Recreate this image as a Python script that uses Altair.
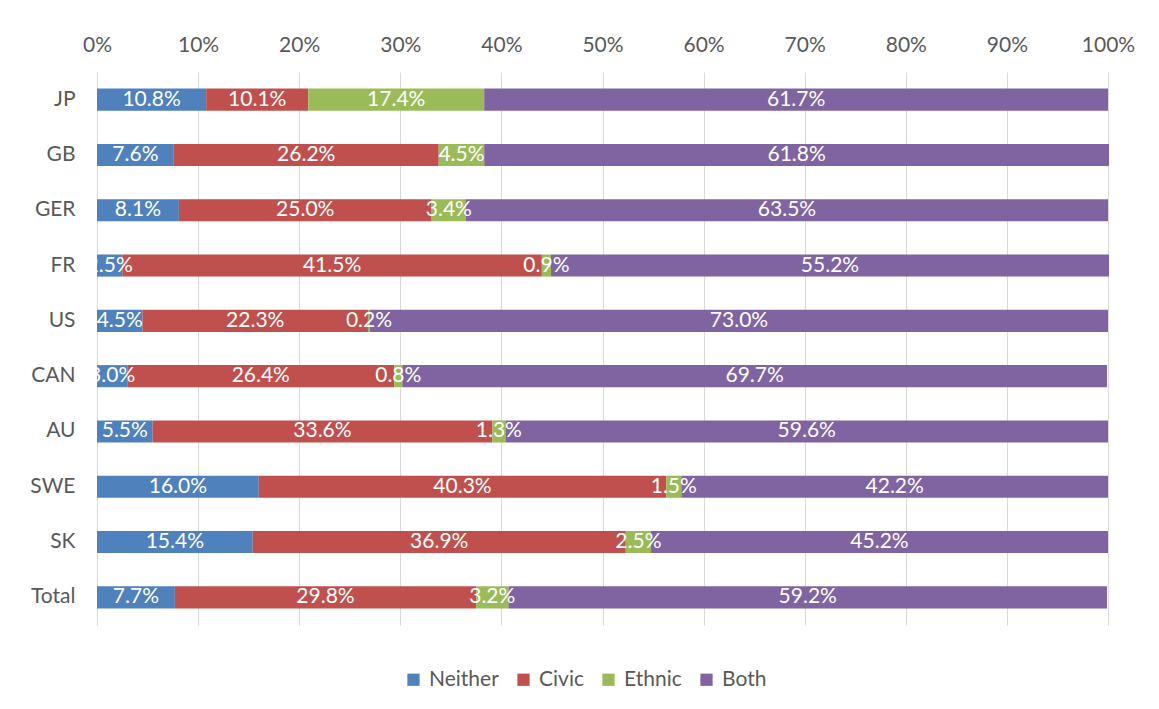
import altair as alt
import pandas as pd

countries = ["JP", "GB", "GER", "FR", "US", "CAN", "AU", "SWE", "SK", "Total"]
series = ["Neither", "Civic", "Ethnic", "Both"]
neither = [10.8, 7.6, 8.1, 2.5, 4.5, 3.0, 5.5, 16.0, 15.4, 7.7]
civic = [10.1, 26.2, 25.0, 41.5, 22.3, 26.4, 33.6, 40.3, 36.9, 29.8]
ethnic = [17.4, 4.5, 3.4, 0.9, 0.2, 0.8, 1.3, 1.5, 2.5, 3.2]
both = [61.7, 61.8, 63.5, 55.2, 73.0, 69.7, 59.6, 42.2, 45.2, 59.2]
colors = ["#4f81bd", "#c0504d", "#9bbb59", "#8064a2"]

rows = []
for i, c in enumerate(countries):
    start = 0.0
    for s, vals in zip(series, [neither, civic, ethnic, both]):
        v = vals[i]
        rows.append({"country": c, "series": s, "order": series.index(s),
                     "start": start / 100, "end": (start + v) / 100,
                     "mid": (start + v / 2) / 100, "label": f"{v:.1f}%"})
        start += v
df = pd.DataFrame(rows)

FONT = "Lato"
FS = 21

xscale = alt.Scale(domain=[0, 1], nice=False)
yscale = alt.Scale(domain=countries, paddingInner=0.6, paddingOuter=0.3)

bars = alt.Chart(df).mark_bar().encode(
    x=alt.X("start:Q", scale=xscale,
            axis=alt.Axis(orient="top", format=".0%", values=[i / 10 for i in range(11)],
                          title=None, domain=False, ticks=False, labelPadding=17,
                          labelFlush=False,
                          labelFontSize=FS, labelColor="#595959", labelFont=FONT,
                          grid=True, gridColor="#d9d9d9")),
    x2="end:Q",
    y=alt.Y("country:N", scale=yscale, sort=countries,
            axis=alt.Axis(title=None, domain=False, ticks=False, labelPadding=22,
                          labelFontSize=FS, labelColor="#595959", labelFont=FONT)),
    color=alt.Color("series:N", scale=alt.Scale(domain=series, range=colors),
                    sort=series,
                    legend=alt.Legend(title=None, orient="none", direction="horizontal",
                                      legendX=306, legendY=597, symbolType="square",
                                      symbolSize=150, symbolStrokeWidth=0,
                                      labelFontSize=FS, labelColor="#595959", labelFont=FONT,
                                      columnPadding=14, labelOffset=5)),
    order="order:Q",
)

labels = alt.Chart(df).mark_text(color="white", fontSize=FS, font=FONT, clip=True,
                                 align="center", baseline="middle").encode(
    x=alt.X("mid:Q", scale=xscale),
    y=alt.Y("country:N", scale=yscale, sort=countries),
    text="label:N",
)

chart = alt.layer(bars, labels).properties(
    width=1011, height=553,
    autosize=alt.AutoSizeParams(type="none"),
    padding={"left": 89, "top": 64, "right": 40, "bottom": 72},
).configure(background="white").configure_view(stroke=None)

chart.save("out.html", embed_options={"renderer": "svg", "actions": False})
